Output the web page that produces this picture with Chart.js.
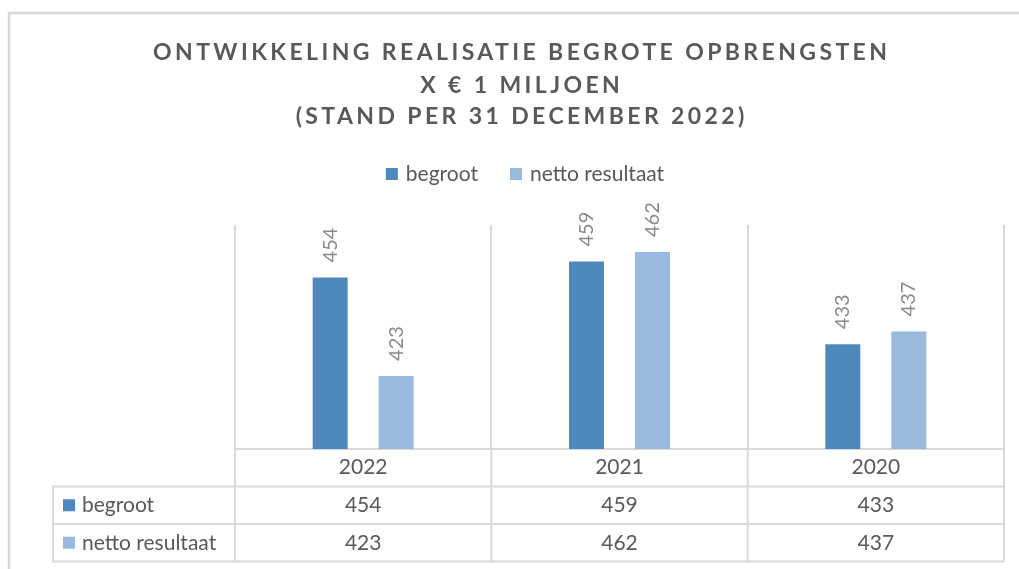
<!DOCTYPE html>
<html lang="nl">
<head>
    <meta charset="UTF-8">
    <title>Ontwikkeling realisatie begrote opbrengsten</title>
    <script src="https://cdn.jsdelivr.net/npm/chart.js"></script>
    <style>
        html, body {
            margin: 0;
            padding: 0;
            background: #fff;
        }
        #wrap {
            width: 1019px;
            height: 569px;
            position: relative;
        }
    </style>
</head>
<body>
    <div id="wrap">
        <canvas id="chart" width="1019" height="569"></canvas>
    </div>

    <script>
        const titleLines = ['ONTWIKKELING REALISATIE BEGROTE OPBRENGSTEN', 'X € 1 MILJOEN', '(STAND PER 31 DECEMBER 2022)'];
        const years = ['2022', '2021', '2020'];
        const seriesNames = ['begroot', 'netto resultaat'];
        const begroot = [454, 459, 433];
        const nettoResultaat = [423, 462, 437];
        const seriesColors = ['#4F88BD', '#99B9DF'];

        const FONT = 'Lato, "Open Sans", sans-serif';
        const textGray = '#595959';
        const labelGray = '#8a8a8a';
        const lineGray = '#d9d9d9';
        const rowH = 37.5;
        const titleSpacing = 3.4;

        // outer frame, title, top legend
        const framePlugin = {
            id: 'frame',
            beforeDraw(chart) {
                const ctx = chart.ctx;
                ctx.save();
                ctx.strokeStyle = lineGray;
                ctx.lineWidth = 2.5;
                ctx.beginPath();
                ctx.moveTo(9, 569);
                ctx.lineTo(9, 13);
                ctx.lineTo(1019, 13);
                ctx.stroke();

                ctx.fillStyle = textGray;
                ctx.font = 'bold 23px ' + FONT;
                ctx.letterSpacing = titleSpacing + 'px';
                ctx.textBaseline = 'alphabetic';
                ctx.textAlign = 'left';
                const baselines = [60, 93, 124];
                titleLines.forEach((t, i) => {
                    const w = ctx.measureText(t).width - titleSpacing;
                    ctx.fillText(t, 520 - w / 2, baselines[i]);
                });
                ctx.letterSpacing = '0px';

                // legend
                ctx.font = '21px ' + FONT;
                ctx.textBaseline = 'middle';
                const items = chart.data.datasets.map(d => ({ label: d.label, color: d.backgroundColor }));
                const widths = items.map(it => 12 + 8 + ctx.measureText(it.label).width);
                const total = widths.reduce((a, b) => a + b, 0) + 32 * (items.length - 1);
                let x = 525 - total / 2;
                items.forEach((it, i) => {
                    ctx.fillStyle = it.color;
                    ctx.fillRect(x, 168, 12, 12);
                    ctx.fillStyle = textGray;
                    ctx.fillText(it.label, x + 20, 174);
                    x += widths[i] + 32;
                });
                ctx.restore();
            }
        };

        // vertical value labels above bars
        const valueLabelPlugin = {
            id: 'valueLabels',
            afterDatasetsDraw(chart) {
                const ctx = chart.ctx;
                ctx.save();
                ctx.font = '20px ' + FONT;
                ctx.fillStyle = labelGray;
                ctx.textAlign = 'left';
                ctx.textBaseline = 'middle';
                chart.data.datasets.forEach((ds, di) => {
                    chart.getDatasetMeta(di).data.forEach((bar, i) => {
                        ctx.save();
                        ctx.translate(bar.x, bar.y - 15);
                        ctx.rotate(-Math.PI / 2);
                        ctx.fillText(String(ds.data[i]), 0, 0);
                        ctx.restore();
                    });
                });
                ctx.restore();
            }
        };

        // data table under the plot
        const tablePlugin = {
            id: 'dataTable',
            afterDraw(chart) {
                const ctx = chart.ctx;
                const area = chart.chartArea;
                const xs = chart.scales.x;
                const top = area.bottom;
                const half = (xs.getPixelForValue(1) - xs.getPixelForValue(0)) / 2;
                const tableLeft = 53;
                ctx.save();
                ctx.strokeStyle = lineGray;
                ctx.lineWidth = 2;
                ctx.beginPath();
                for (let r = 1; r <= 3; r++) {
                    const y = top + rowH * r;
                    ctx.moveTo(tableLeft, y);
                    ctx.lineTo(area.right, y);
                }
                const bounds = [area.left];
                years.forEach((y, i) => bounds.push(xs.getPixelForValue(i) + half));
                bounds.forEach(bx => {
                    ctx.moveTo(bx, top);
                    ctx.lineTo(bx, top + rowH * 3);
                });
                ctx.moveTo(tableLeft, top + rowH);
                ctx.lineTo(tableLeft, top + rowH * 3);
                ctx.stroke();

                ctx.font = '21px ' + FONT;
                ctx.textBaseline = 'middle';
                chart.data.datasets.forEach((ds, di) => {
                    const cy = top + rowH * (di + 1) + rowH / 2;
                    ctx.fillStyle = ds.backgroundColor;
                    ctx.fillRect(63, cy - 6, 12, 12);
                    ctx.fillStyle = textGray;
                    ctx.textAlign = 'left';
                    ctx.fillText(ds.label, 82, cy);
                    ctx.textAlign = 'center';
                    ds.data.forEach((v, i) => {
                        ctx.fillText(String(v), xs.getPixelForValue(i), cy);
                    });
                });
                ctx.restore();
            }
        };

        new Chart(document.getElementById('chart'), {
            type: 'bar',
            data: {
                labels: years,
                datasets: [
                    { label: seriesNames[0], data: begroot, backgroundColor: seriesColors[0] },
                    { label: seriesNames[1], data: nettoResultaat, backgroundColor: seriesColors[1] }
                ]
            },
            options: {
                responsive: false,
                animation: false,
                events: [],
                categoryPercentage: 0.515,
                barPercentage: 0.53,
                layout: {
                    padding: { left: 235, right: 15, top: 225, bottom: 20 }
                },
                plugins: {
                    legend: { display: false },
                    title: { display: false },
                    tooltip: { enabled: false }
                },
                scales: {
                    x: {
                        grid: {
                            offset: true,
                            color: lineGray,
                            lineWidth: 2,
                            drawTicks: false
                        },
                        border: { color: lineGray, width: 2 },
                        ticks: {
                            color: textGray,
                            font: { family: FONT, size: 21 },
                            padding: 6
                        },
                        afterFit(scale) {
                            scale.height = 100;
                        }
                    },
                    y: {
                        display: false,
                        min: 400,
                        max: 470.5
                    }
                }
            },
            plugins: [framePlugin, valueLabelPlugin, tablePlugin]
        });
    </script>
</body>
</html>
